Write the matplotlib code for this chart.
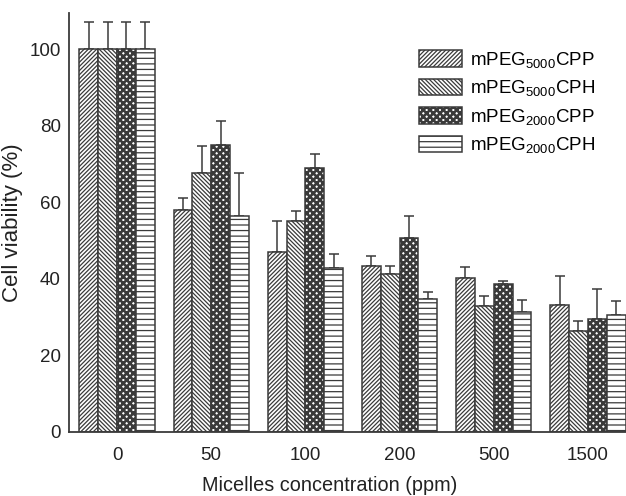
import numpy as np
import matplotlib
matplotlib.use('Agg')
from matplotlib import pyplot as plt
from matplotlib.patches import Patch

# Cell viability of the four micelle types at each concentration
concs = ['0', '50', '100', '200', '500', '1500']
labels = ['mPEG$_{5000}$CPP', 'mPEG$_{5000}$CPH', 'mPEG$_{2000}$CPP', 'mPEG$_{2000}$CPH']

v_5000_cpp = [100, 58.0, 46.9, 43.4, 40.1, 33.2]
v_5000_cph = [100, 67.7, 55.1, 41.3, 33.0, 26.5]
v_2000_cpp = [100, 74.9, 69.0, 50.6, 38.6, 29.4]
v_2000_cph = [100, 56.4, 42.7, 34.8, 31.3, 30.5]

# upper error (top of whisker minus bar top)
e_5000_cpp = [7.0, 3.1, 8.3, 2.6, 3.1, 7.5]
e_5000_cph = [7.0, 7.1, 2.7, 2.0, 2.6, 2.6]
e_2000_cpp = [7.0, 6.4, 3.5, 5.9, 0.8, 8.0]
e_2000_cph = [7.0, 11.2, 3.9, 1.7, 3.2, 3.6]

vals = [v_5000_cpp, v_5000_cph, v_2000_cpp, v_2000_cph]
errs = [e_5000_cpp, e_5000_cph, e_2000_cpp, e_2000_cph]
hatches = ['////////', '\\\\\\\\\\\\\\\\', 'xxxxx', '---']
dot_lw = 1.9

plt.rcParams['font.family'] = 'Liberation Sans'
plt.rcParams['mathtext.fontset'] = 'custom'
plt.rcParams['mathtext.rm'] = 'Liberation Sans'
plt.rcParams['mathtext.it'] = 'Liberation Sans'
plt.rcParams['hatch.linewidth'] = 0.9
fs = 13.5
dark = '#3a3a3a'
txt = '#222222'

fig = plt.figure(figsize=(6.26, 4.96), dpi=100)
ax = fig.add_axes([69/626, 1-432/496, 1-69/626, (432-13)/496])

x = np.arange(len(concs))
w = 0.2
handles = []
for i in range(4):
    pos = x + (i - 1.5) * w
    bars = ax.bar(pos, vals[i], w, color='white', edgecolor=dark, linewidth=1.1,
                  hatch=hatches[i], zorder=2)
    if i == 2:
        for b in bars:
            if hasattr(b, 'set_hatch_linewidth'):
                b.set_hatch_linewidth(dot_lw)
    yerr = [np.zeros(len(concs)), errs[i]]
    ax.errorbar(pos, vals[i], yerr=yerr, fmt='none', ecolor=dark, elinewidth=1.1,
                capsize=3.5, capthick=1.1, zorder=1)
    handles.append(Patch(facecolor='white', edgecolor=dark, linewidth=1.1, hatch=hatches[i]))

ax.set_xlim(-0.51, 5.405)
ax.set_ylim(0, 109.4)
ax.set_yticks([0, 20, 40, 60, 80, 100])
ax.set_xticks(x)
ax.set_xticklabels(concs)
ax.tick_params(axis='both', length=0, labelsize=fs, colors=txt)
ax.tick_params(axis='y', pad=6)
ax.tick_params(axis='x', pad=11)
for s in ['top', 'right']:
    ax.spines[s].set_visible(False)
for s in ['left', 'bottom']:
    ax.spines[s].set_color(dark)
    ax.spines[s].set_linewidth(1.3)

ax.set_xlabel('Micelles concentration (ppm)', fontsize=14.3, color=txt)
ax.xaxis.set_label_coords((330-69)/557, -0.105)
ax.set_ylabel('Cell viability (%)', fontsize=16, color=txt)
ax.yaxis.set_label_coords(-(69-23)/557, 0.5)

leg = fig.legend(handles, labels, loc='upper left', bbox_to_anchor=(419/626, 1-50/496),
                 frameon=False, fontsize=fs, handlelength=2.3, handleheight=0.95,
                 labelspacing=0.45, handletextpad=0.4, borderpad=0, borderaxespad=0)
lp = leg.get_patches()[2]
if hasattr(lp, 'set_hatch_linewidth'):
    lp.set_hatch_linewidth(dot_lw)

plt.savefig('out.png', dpi=100)
